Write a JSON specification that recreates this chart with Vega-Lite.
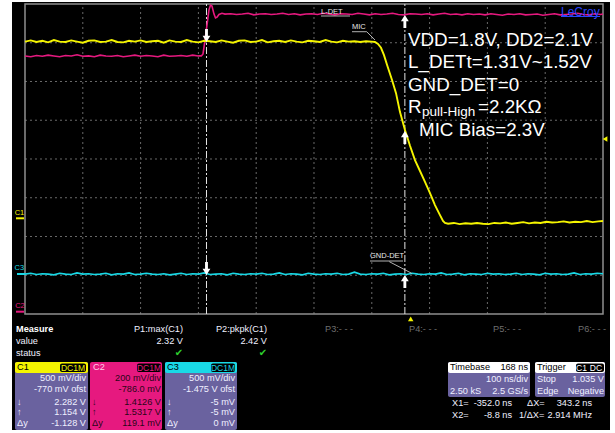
{
"$schema": "https://vega.github.io/schema/vega-lite/v6.json",
"width": 615, "height": 433,
"autosize": {"type": "fit", "contains": "padding"},
"padding": 0,
"background": "#ffffff",
"config": {"view": {"stroke": null}, "text": {"font": "Liberation Sans"}},
"datasets": {
"bg": [{"t":-688.49,"t2":346.11,"v":8.0516,"v2":-2.9935}],
"frame": [{"t":-666,"t2":334,"v":0,"v2":8}],
"grid": [
{"t":-566,"t2":-566,"v":0,"v2":8},{"t":-466,"t2":-466,"v":0,"v2":8},{"t":-366,"t2":-366,"v":0,"v2":8},{"t":-266,"t2":-266,"v":0,"v2":8},{"t":-166,"t2":-166,"v":0,"v2":8},{"t":-66,"t2":-66,"v":0,"v2":8},{"t":34,"t2":34,"v":0,"v2":8},{"t":134,"t2":134,"v":0,"v2":8},{"t":234,"t2":234,"v":0,"v2":8},
{"t":-666,"t2":334,"v":1,"v2":1},{"t":-666,"t2":334,"v":2,"v2":2},{"t":-666,"t2":334,"v":3,"v2":3},{"t":-666,"t2":334,"v":4,"v2":4},{"t":-666,"t2":334,"v":5,"v2":5},{"t":-666,"t2":334,"v":6,"v2":6},{"t":-666,"t2":334,"v":7,"v2":7}
],
"cursors": [{"t":-352,"t2":-352,"v":0,"v2":8},{"t":-8.8,"t2":-8.8,"v":0,"v2":8}],
"c1": [{"t":-666,"v":7.03},{"t":-656,"v":7.06},{"t":-646,"v":7.02},{"t":-636,"v":7.05},{"t":-626,"v":7.01},{"t":-616,"v":7.07},{"t":-606,"v":7.03},{"t":-596,"v":7.02},{"t":-586,"v":7.06},{"t":-576,"v":7.03},{"t":-566,"v":7.00},{"t":-556,"v":7.05},{"t":-546,"v":7.06},{"t":-536,"v":7.02},{"t":-526,"v":7.03},{"t":-516,"v":7.07},{"t":-506,"v":7.02},{"t":-496,"v":7.01},{"t":-486,"v":7.05},{"t":-476,"v":7.03},{"t":-466,"v":7.06},{"t":-456,"v":7.02},{"t":-446,"v":7.04},{"t":-436,"v":7.05},{"t":-426,"v":7.00},{"t":-416,"v":7.06},{"t":-406,"v":7.03},{"t":-396,"v":7.02},{"t":-386,"v":7.07},{"t":-376,"v":7.03},{"t":-366,"v":7.01},{"t":-356,"v":7.05},{"t":-346,"v":7.04},{"t":-336,"v":7.02},{"t":-326,"v":7.06},{"t":-316,"v":7.03},{"t":-306,"v":7.00},{"t":-296,"v":7.05},{"t":-286,"v":7.06},{"t":-276,"v":7.02},{"t":-266,"v":7.03},{"t":-256,"v":7.07},{"t":-246,"v":7.01},{"t":-236,"v":7.04},{"t":-226,"v":7.05},{"t":-216,"v":7.02},{"t":-206,"v":7.06},{"t":-196,"v":7.03},{"t":-186,"v":7.01},{"t":-176,"v":7.05},{"t":-166,"v":7.04},{"t":-156,"v":7.02},{"t":-146,"v":7.07},{"t":-136,"v":7.03},{"t":-126,"v":7.01},{"t":-116,"v":7.05},{"t":-106,"v":7.03},{"t":-96,"v":7.04},{"t":-86,"v":7.02},{"t":-76,"v":7.04},{"t":-66,"v":7.03},
{"t":-60.5,"v":7.02},{"t":-55.3,"v":6.97},{"t":-50.1,"v":6.87},{"t":-44.9,"v":6.68},{"t":-39.7,"v":6.43},{"t":-31.0,"v":6.04},{"t":-24.1,"v":5.70},{"t":-17.2,"v":5.21},{"t":-8.6,"v":4.75},{"t":0.1,"v":4.34},{"t":8.7,"v":3.97},{"t":17.4,"v":3.69},{"t":26.0,"v":3.41},{"t":34.7,"v":3.12},{"t":43.3,"v":2.81},{"t":52.0,"v":2.55},{"t":57.2,"v":2.40},{"t":60.6,"v":2.35},
{"t":66,"v":2.33},{"t":76,"v":2.35},{"t":86,"v":2.32},{"t":96,"v":2.34},{"t":106,"v":2.33},{"t":116,"v":2.35},{"t":126,"v":2.33},{"t":136,"v":2.32},{"t":146,"v":2.35},{"t":156,"v":2.34},{"t":166,"v":2.36},{"t":176,"v":2.33},{"t":186,"v":2.35},{"t":196,"v":2.37},{"t":206,"v":2.34},{"t":216,"v":2.36},{"t":226,"v":2.35},{"t":236,"v":2.38},{"t":246,"v":2.36},{"t":256,"v":2.37},{"t":266,"v":2.39},{"t":276,"v":2.36},{"t":286,"v":2.38},{"t":296,"v":2.37},{"t":306,"v":2.40},{"t":316,"v":2.37},{"t":326,"v":2.39},{"t":334,"v":2.40}],
"c2": [{"t":-666,"v":6.66},{"t":-656,"v":6.64},{"t":-646,"v":6.67},{"t":-636,"v":6.65},{"t":-626,"v":6.68},{"t":-616,"v":6.66},{"t":-606,"v":6.64},{"t":-596,"v":6.67},{"t":-586,"v":6.66},{"t":-576,"v":6.69},{"t":-566,"v":6.65},{"t":-556,"v":6.66},{"t":-546,"v":6.64},{"t":-536,"v":6.68},{"t":-526,"v":6.66},{"t":-516,"v":6.65},{"t":-506,"v":6.67},{"t":-496,"v":6.64},{"t":-486,"v":6.66},{"t":-476,"v":6.68},{"t":-466,"v":6.65},{"t":-456,"v":6.67},{"t":-446,"v":6.66},{"t":-436,"v":6.64},{"t":-426,"v":6.68},{"t":-416,"v":6.65},{"t":-406,"v":6.66},{"t":-396,"v":6.67},{"t":-386,"v":6.65},{"t":-376,"v":6.68},{"t":-366,"v":6.66},{"t":-361,"v":6.66},
{"t":-358.0,"v":6.71},{"t":-354.6,"v":7.07},{"t":-351.1,"v":7.46},{"t":-347.7,"v":7.85},{"t":-345.1,"v":7.97},{"t":-342.5,"v":7.95},{"t":-339.0,"v":7.74},{"t":-336.4,"v":7.64},{"t":-333.8,"v":7.66},{"t":-330.4,"v":7.73},{"t":-325.2,"v":7.76},{"t":-320,"v":7.74},
{"t":-310,"v":7.75},{"t":-300,"v":7.73},{"t":-290,"v":7.74},{"t":-280,"v":7.76},{"t":-270,"v":7.72},{"t":-260,"v":7.74},{"t":-250,"v":7.75},{"t":-240,"v":7.73},{"t":-230,"v":7.74},{"t":-220,"v":7.76},{"t":-210,"v":7.73},{"t":-200,"v":7.75},{"t":-190,"v":7.72},{"t":-180,"v":7.74},{"t":-170,"v":7.75},{"t":-160,"v":7.73},{"t":-150,"v":7.76},{"t":-140,"v":7.74},{"t":-130,"v":7.72},{"t":-120,"v":7.75},{"t":-110,"v":7.74},{"t":-100,"v":7.73},{"t":-90,"v":7.76},{"t":-80,"v":7.74},{"t":-70,"v":7.72},{"t":-60,"v":7.75},{"t":-50,"v":7.73},{"t":-40,"v":7.74},{"t":-30,"v":7.76},{"t":-20,"v":7.73},{"t":-10,"v":7.72},{"t":0,"v":7.75},{"t":10,"v":7.74},{"t":20,"v":7.73},{"t":30,"v":7.75},{"t":40,"v":7.72},{"t":50,"v":7.74},{"t":60,"v":7.76},{"t":70,"v":7.73},{"t":80,"v":7.74},{"t":90,"v":7.72},{"t":100,"v":7.75},{"t":110,"v":7.73},{"t":120,"v":7.74},{"t":130,"v":7.72},{"t":140,"v":7.75},{"t":150,"v":7.73},{"t":160,"v":7.71},{"t":170,"v":7.74},{"t":180,"v":7.73},{"t":190,"v":7.75},{"t":200,"v":7.72},{"t":210,"v":7.73},{"t":220,"v":7.74},{"t":230,"v":7.71},{"t":240,"v":7.73},{"t":250,"v":7.75},{"t":260,"v":7.72},{"t":270,"v":7.73},{"t":280,"v":7.74},{"t":290,"v":7.76},{"t":300,"v":7.73},{"t":310,"v":7.72},{"t":320,"v":7.75},{"t":330,"v":7.73},{"t":334,"v":7.74}],
"c3": [{"t":-666,"v":1.03},{"t":-656,"v":1.05},{"t":-646,"v":1.02},{"t":-636,"v":1.04},{"t":-626,"v":1.03},{"t":-616,"v":1.01},{"t":-606,"v":1.05},{"t":-596,"v":1.03},{"t":-586,"v":1.02},{"t":-576,"v":1.06},
{"t":-566,"v":1.03},{"t":-556,"v":1.04},{"t":-546,"v":1.02},{"t":-536,"v":1.03},{"t":-526,"v":1.05},{"t":-516,"v":1.01},{"t":-506,"v":1.04},{"t":-496,"v":1.03},{"t":-486,"v":1.06},{"t":-476,"v":1.02},
{"t":-466,"v":1.03},{"t":-456,"v":1.05},{"t":-446,"v":1.03},{"t":-436,"v":1.02},{"t":-426,"v":1.04},{"t":-416,"v":1.01},{"t":-406,"v":1.03},{"t":-396,"v":1.05},{"t":-386,"v":1.02},{"t":-376,"v":1.04},
{"t":-366,"v":1.03},{"t":-356,"v":1.06},{"t":-346,"v":1.02},{"t":-336,"v":1.03},{"t":-326,"v":1.04},{"t":-316,"v":1.01},{"t":-306,"v":1.05},{"t":-296,"v":1.03},{"t":-286,"v":1.02},{"t":-276,"v":1.04},
{"t":-266,"v":1.03},{"t":-256,"v":1.05},{"t":-246,"v":1.02},{"t":-236,"v":1.03},{"t":-226,"v":1.06},{"t":-216,"v":1.02},{"t":-206,"v":1.04},{"t":-196,"v":1.03},{"t":-186,"v":1.01},{"t":-176,"v":1.05},
{"t":-166,"v":1.03},{"t":-156,"v":1.02},{"t":-146,"v":1.04},{"t":-136,"v":1.03},{"t":-126,"v":1.05},{"t":-116,"v":1.02},{"t":-106,"v":1.03},{"t":-96,"v":1.08},{"t":-86,"v":1.03},{"t":-76,"v":1.02},
{"t":-66,"v":1.04},{"t":-56,"v":1.03},{"t":-46,"v":1.05},{"t":-36,"v":1.01},{"t":-26,"v":1.03},{"t":-16,"v":1.04},{"t":-6,"v":1.02},{"t":4,"v":1.05},{"t":14,"v":1.03},{"t":24,"v":1.02},
{"t":34,"v":1.04},{"t":44,"v":1.03},{"t":54,"v":1.06},{"t":64,"v":1.02},{"t":74,"v":1.03},{"t":84,"v":1.05},{"t":94,"v":1.01},{"t":104,"v":1.04},{"t":114,"v":1.03},{"t":124,"v":1.02},
{"t":134,"v":1.05},{"t":144,"v":1.03},{"t":154,"v":1.04},{"t":164,"v":1.02},{"t":174,"v":1.03},{"t":184,"v":1.05},{"t":194,"v":1.02},{"t":204,"v":1.04},{"t":214,"v":1.03},{"t":224,"v":1.01},
{"t":234,"v":1.05},{"t":244,"v":1.03},{"t":254,"v":1.04},{"t":264,"v":1.02},{"t":274,"v":1.03},{"t":284,"v":1.06},{"t":294,"v":1.02},{"t":304,"v":1.04},{"t":314,"v":1.03},{"t":324,"v":1.05},{"t":334,"v":1.04}],
"arrDown": [{"t":-352,"v":7.187},{"t":-352,"v":1.1742}],
"arrUp": [{"t":-8.8,"v":7.5484},{"t":-8.8,"v":4.555},{"t":-8.8,"v":0.8387}],
"leaders": [
{"t":-153.89,"t2":-103.71,"v":7.6903,"v2":7.6903},
{"t":-100.25,"t2":-74.83,"v":7.285,"v2":7.285},
{"t":-74.83,"t2":-60.46,"v":7.285,"v2":7.071},
{"t":-69.11,"t2":-12.02,"v":1.3677,"v2":1.3677},
{"t":-35.72,"t2":3.03,"v":1.3497,"v2":1.0503}
],
"smallLabels": [{"t":-153.89,"v":7.8064,"s":"L-DET"},{"t":-100.25,"v":7.4142,"s":"MIC"},{"t":-69.11,"v":1.484,"s":"GND-DET"}],
"big": [
{"t":-3.37,"v":7.071,"s":"VDD=1.8V, DD2=2.1V"},
{"t":-3.37,"v":6.511,"s":"L_DETt=1.31V~1.52V"},
{"t":-3.37,"v":5.9097,"s":"GND_DET=0"},
{"t":-3.37,"v":5.3497,"s":"R"},
{"t":117.74,"v":5.3497,"s":"=2.2KΩ"},
{"t":15.66,"v":4.7484,"s":"MIC Bias=2.3V"}
],
"sub": [{"t":20.85,"v":5.2207,"s":"pull-High"}],
"chMarks": [{"ch":"C1","t":-675.52,"v":2.5936,"s":"C1"},{"ch":"C3","t":-675.86,"v":1.1794,"s":"C3"},{"ch":"C2","t":-674.65,"v":0.1988,"s":"C2"}],
"chBars": [{"ch":"C1","t":-681.57,"t2":-667.73,"v":2.4697,"v2":2.4697},{"ch":"C3","t":-679.84,"t2":-666,"v":1.0323,"v2":1.0323},{"ch":"C2","t":-681.57,"t2":-667.73,"v":0.0595,"v2":0.0595}],
"trigL": [{"t":337.46,"v":4.516}],
"trigU": [{"t":1.30,"v":-0.1238}],
"logo": [{"t":261.34,"v":7.786,"s":"LeCroy"}],
"logoLine": [{"t":261.34,"t2":328.81,"v":7.6774,"v2":7.6774}],
"boxes": [
{"k":"body","t":-683.30,"t2":-557.00,"v":-1.2387,"v2":-2.9935},
{"k":"C1","t":-683.30,"t2":-557.00,"v":-1.2387,"v2":-1.5224},
{"k":"C2","t":-553.54,"t2":-428.97,"v":-1.2387,"v2":-2.9935},
{"k":"body","t":-423.78,"t2":-299.22,"v":-1.2387,"v2":-2.9935},
{"k":"C3","t":-423.78,"t2":-299.22,"v":-1.2387,"v2":-1.5224},
{"k":"body","t":65.83,"t2":207.70,"v":-1.2387,"v2":-2.1419},
{"k":"head","t":65.83,"t2":207.70,"v":-1.2387,"v2":-1.5224},
{"k":"body","t":216.35,"t2":337.46,"v":-1.2387,"v2":-2.1419},
{"k":"head","t":216.35,"t2":337.46,"v":-1.2387,"v2":-1.5224},
{"k":"tag","t":-605.44,"t2":-560.46,"v":-1.2774,"v2":-1.4968},
{"k":"tag","t":-472.23,"t2":-430.70,"v":-1.2774,"v2":-1.4968},
{"k":"tag","t":-344.20,"t2":-302.68,"v":-1.2774,"v2":-1.4968},
{"k":"tag","t":287.29,"t2":335.73,"v":-1.2774,"v2":-1.4968}
],
"wL": [
{"t":-681.57,"v":-0.6968,"s":"value"},
{"t":-681.57,"v":-1.0065,"s":"status"},
{"t":-679.84,"v":-2.2581,"s":"↓"},{"t":-679.84,"v":-2.5419,"s":"↑"},{"t":-679.84,"v":-2.8258,"s":"Δy"},
{"t":-420.32,"v":-2.2581,"s":"↓"},{"t":-420.32,"v":-2.5419,"s":"↑"},{"t":-420.32,"v":-2.8258,"s":"Δy"},
{"t":69.30,"v":-1.9871,"s":"2.50 kS"},
{"t":219.81,"v":-1.6774,"s":"Stop"},{"t":219.81,"v":-1.9871,"s":"Edge"},
{"t":72.76,"v":-2.2968,"s":"X1="},{"t":72.76,"v":-2.6065,"s":"X2="},
{"t":202.51,"v":-2.2968,"s":"ΔX="},{"t":188.67,"v":-2.6065,"s":"1/ΔX="}
],
"wR": [
{"t":-392.64,"v":-0.3871,"s":"P1:max(C1)"},
{"t":-247.31,"v":-0.3871,"s":"P2:pkpk(C1)"},
{"t":-392.64,"v":-0.6968,"s":"2.32 V"},
{"t":-247.31,"v":-0.6968,"s":"2.42 V"},
{"t":-560.46,"v":-1.6645,"s":"500 mV/div"},{"t":-560.46,"v":-1.9484,"s":"-770 mV ofst"},{"t":-560.46,"v":-2.2581,"s":"2.282 V"},{"t":-560.46,"v":-2.5419,"s":"1.154 V"},{"t":-560.46,"v":-2.8258,"s":"-1.128 V"},
{"t":-302.68,"v":-1.6645,"s":"500 mV/div"},{"t":-302.68,"v":-1.9484,"s":"-1.475 V ofst"},{"t":-302.68,"v":-2.2581,"s":"-5 mV"},{"t":-302.68,"v":-2.5419,"s":"-5 mV"},{"t":-302.68,"v":-2.8258,"s":"0 mV"},
{"t":204.24,"v":-1.6774,"s":"100 ns/div"},{"t":204.24,"v":-1.9871,"s":"2.5 GS/s"},
{"t":335.73,"v":-1.6774,"s":"1.035 V"},{"t":335.73,"v":-1.9871,"s":"Negative"},
{"t":176.56,"v":-2.2968,"s":"-352.0 ns"},{"t":314.97,"v":-2.2968,"s":"343.2 ns"},
{"t":176.56,"v":-2.6065,"s":"-8.8 ns"},{"t":314.97,"v":-2.6065,"s":"2.914 MHz"}
],
"dR": [{"t":-430.70,"v":-1.6645,"s":"200 mV/div"},{"t":-430.70,"v":-1.9484,"s":"-786.0 mV"},{"t":-430.70,"v":-2.2581,"s":"1.4126 V"},{"t":-430.70,"v":-2.5419,"s":"1.5317 V"},{"t":-430.70,"v":-2.8258,"s":"119.1 mV"}],
"dL": [{"t":-550.08,"v":-2.2581,"s":"↓"},{"t":-550.08,"v":-2.5419,"s":"↑"},{"t":-550.08,"v":-2.8258,"s":"Δy"}],
"hL": [{"t":-679.84,"v":-1.3676,"s":"C1"},{"t":-420.32,"v":-1.3676,"s":"C3"},{"t":69.30,"v":-1.3676,"s":"Timebase"},{"t":219.81,"v":-1.3676,"s":"Trigger"}],
"hR": [{"t":204.24,"v":-1.3676,"s":"168 ns"}],
"pL": [{"t":-548.35,"v":-1.3676,"s":"C2"}],
"tags": [{"ch":"C1","t":-582.95,"v":-1.387,"s":"DC1M"},{"ch":"C2","t":-451.47,"v":-1.387,"s":"DC1M"},{"ch":"C3","t":-323.44,"v":-1.387,"s":"DC1M"}],
"tagsW": [{"t":296.80,"v":-1.387,"s":"C1"},{"t":321.89,"v":-1.387,"s":"DC"}],
"grey": [{"t":-146.97,"v":-0.3871,"s":"P3:- - -"},{"t":-1.64,"v":-0.3871,"s":"P4:- - -"},{"t":143.69,"v":-0.3871,"s":"P5:- - -"},{"t":290.75,"v":-0.3871,"s":"P6:- - -"}],
"bold": [{"t":-681.57,"v":-0.3871,"s":"Measure"}],
"checks": [{"t":-399.56,"v":-1.0065,"s":"✔"},{"t":-254.23,"v":-1.0065,"s":"✔"}]
},
"encoding": {
"x": {"field": "t", "type": "quantitative", "scale": {"domain": [-709.25, 354.76], "nice": false, "zero": false}, "axis": null},
"y": {"field": "v", "type": "quantitative", "scale": {"domain": [-3.071, 8.1032], "nice": false, "zero": false}, "axis": null}
},
"layer": [
{"data": {"name": "bg"}, "mark": {"type": "rect", "color": "#000000"}, "encoding": {"x2": {"field": "t2"}, "y2": {"field": "v2"}}},
{"data": {"name": "grid"}, "mark": {"type": "rule", "color": "#6a6a6a", "strokeWidth": 1, "strokeDash": [2, 3]}, "encoding": {"x2": {"field": "t2"}, "y2": {"field": "v2"}}},
{"data": {"name": "frame"}, "mark": {"type": "rect", "fill": "transparent", "stroke": "#8f8f8f", "strokeWidth": 1.5}, "encoding": {"x2": {"field": "t2"}, "y2": {"field": "v2"}}},
{"data": {"name": "cursors"}, "mark": {"type": "rule", "color": "#e6e6e6", "strokeWidth": 1, "strokeDash": [7, 2, 2, 2]}, "encoding": {"x2": {"field": "t2"}, "y2": {"field": "v2"}}},
{"data": {"name": "c2"}, "mark": {"type": "line", "color": "#e6197f", "strokeWidth": 1.6}, "encoding": {}},
{"data": {"name": "c1"}, "mark": {"type": "line", "color": "#f5f500", "strokeWidth": 1.9}, "encoding": {}},
{"data": {"name": "c3"}, "mark": {"type": "line", "color": "#19d9e6", "strokeWidth": 1.6}, "encoding": {}},
{"data": {"name": "leaders"}, "mark": {"type": "rule", "color": "#e0e0e0", "strokeWidth": 0.8}, "encoding": {"x2": {"field": "t2"}, "y2": {"field": "v2"}}},
{"data": {"name": "smallLabels"}, "mark": {"type": "text", "align": "left", "baseline": "middle", "fontSize": 7.5, "color": "#e8e8e8"}, "encoding": {"text": {"field": "s"}}},
{"data": {"name": "arrDown"}, "mark": {"type": "point", "shape": "M-0.22,-1L0.22,-1L0.22,0.05L0.6,0.05L0,1L-0.6,0.05L-0.22,0.05Z", "filled": true, "color": "#ffffff", "size": 169, "opacity": 1}, "encoding": {}},
{"data": {"name": "arrUp"}, "mark": {"type": "point", "shape": "M-0.22,1L0.22,1L0.22,-0.05L0.6,-0.05L0,-1L-0.6,-0.05L-0.22,-0.05Z", "filled": true, "color": "#ffffff", "size": 169, "opacity": 1}, "encoding": {}},
{"data": {"name": "big"}, "mark": {"type": "text", "align": "left", "baseline": "middle", "fontSize": 18.8, "color": "#ffffff"}, "encoding": {"text": {"field": "s"}}},
{"data": {"name": "sub"}, "mark": {"type": "text", "align": "left", "baseline": "middle", "fontSize": 13.5, "color": "#ffffff"}, "encoding": {"text": {"field": "s"}}},
{"data": {"name": "chBars"}, "mark": {"type": "rule", "strokeWidth": 2}, "encoding": {"x2": {"field": "t2"}, "y2": {"field": "v2"}, "color": {"field": "ch", "type": "nominal", "scale": {"domain": ["C1","C2","C3","body","head","tag"], "range": ["#f5f500","#e6197f","#19d9e6","#6a629f","#ffffff","#000000"]}, "legend": null}}},
{"data": {"name": "chMarks"}, "mark": {"type": "text", "align": "center", "baseline": "middle", "fontSize": 7.5}, "encoding": {"text": {"field": "s"}, "color": {"field": "ch", "type": "nominal", "scale": {"domain": ["C1","C2","C3","body","head","tag"], "range": ["#f5f500","#e6197f","#19d9e6","#6a629f","#ffffff","#000000"]}, "legend": null}}},
{"data": {"name": "trigL"}, "mark": {"type": "point", "shape": "triangle-left", "filled": true, "color": "#f5f500", "size": 30, "opacity": 1}, "encoding": {}},
{"data": {"name": "trigU"}, "mark": {"type": "point", "shape": "triangle-up", "filled": true, "color": "#f5f500", "size": 30, "opacity": 1}, "encoding": {}},
{"data": {"name": "logo"}, "mark": {"type": "text", "align": "left", "baseline": "middle", "fontSize": 12, "color": "#2b45ff"}, "encoding": {"text": {"field": "s"}}},
{"data": {"name": "logoLine"}, "mark": {"type": "rule", "color": "#2b45ff", "strokeWidth": 1}, "encoding": {"x2": {"field": "t2"}, "y2": {"field": "v2"}}},
{"data": {"name": "boxes"}, "mark": {"type": "rect", "cornerRadius": 2}, "encoding": {"x2": {"field": "t2"}, "y2": {"field": "v2"}, "color": {"field": "k", "type": "nominal", "scale": {"domain": ["C1","C2","C3","body","head","tag"], "range": ["#f5f500","#e6197f","#19d9e6","#6a629f","#ffffff","#000000"]}, "legend": null}}},
{"data": {"name": "tags"}, "mark": {"type": "text", "align": "center", "baseline": "middle", "fontSize": 8.5}, "encoding": {"text": {"field": "s"}, "color": {"field": "ch", "type": "nominal", "scale": {"domain": ["C1","C2","C3","body","head","tag"], "range": ["#f5f500","#e6197f","#19d9e6","#6a629f","#ffffff","#000000"]}, "legend": null}}},
{"data": {"name": "tagsW"}, "mark": {"type": "text", "align": "center", "baseline": "middle", "fontSize": 8.5, "color": "#ffffff"}, "encoding": {"text": {"field": "s"}}},
{"data": {"name": "wL"}, "mark": {"type": "text", "align": "left", "baseline": "middle", "fontSize": 9.2, "color": "#f0f0ff"}, "encoding": {"text": {"field": "s"}}},
{"data": {"name": "wR"}, "mark": {"type": "text", "align": "right", "baseline": "middle", "fontSize": 9.2, "color": "#f0f0ff"}, "encoding": {"text": {"field": "s"}}},
{"data": {"name": "dR"}, "mark": {"type": "text", "align": "right", "baseline": "middle", "fontSize": 9.2, "color": "#2a0518"}, "encoding": {"text": {"field": "s"}}},
{"data": {"name": "dL"}, "mark": {"type": "text", "align": "left", "baseline": "middle", "fontSize": 9.2, "color": "#2a0518"}, "encoding": {"text": {"field": "s"}}},
{"data": {"name": "hL"}, "mark": {"type": "text", "align": "left", "baseline": "middle", "fontSize": 9.2, "color": "#000000"}, "encoding": {"text": {"field": "s"}}},
{"data": {"name": "hR"}, "mark": {"type": "text", "align": "right", "baseline": "middle", "fontSize": 9.2, "color": "#000000"}, "encoding": {"text": {"field": "s"}}},
{"data": {"name": "pL"}, "mark": {"type": "text", "align": "left", "baseline": "middle", "fontSize": 9.2, "color": "#ffd0e8"}, "encoding": {"text": {"field": "s"}}},
{"data": {"name": "grey"}, "mark": {"type": "text", "align": "left", "baseline": "middle", "fontSize": 9.2, "color": "#6e6e6e"}, "encoding": {"text": {"field": "s"}}},
{"data": {"name": "bold"}, "mark": {"type": "text", "align": "left", "baseline": "middle", "fontSize": 9.2, "fontWeight": "bold", "color": "#ffffff"}, "encoding": {"text": {"field": "s"}}},
{"data": {"name": "checks"}, "mark": {"type": "text", "align": "center", "baseline": "middle", "fontSize": 10, "font": "DejaVu Sans", "color": "#2ed12e"}, "encoding": {"text": {"field": "s"}}}
]
}
